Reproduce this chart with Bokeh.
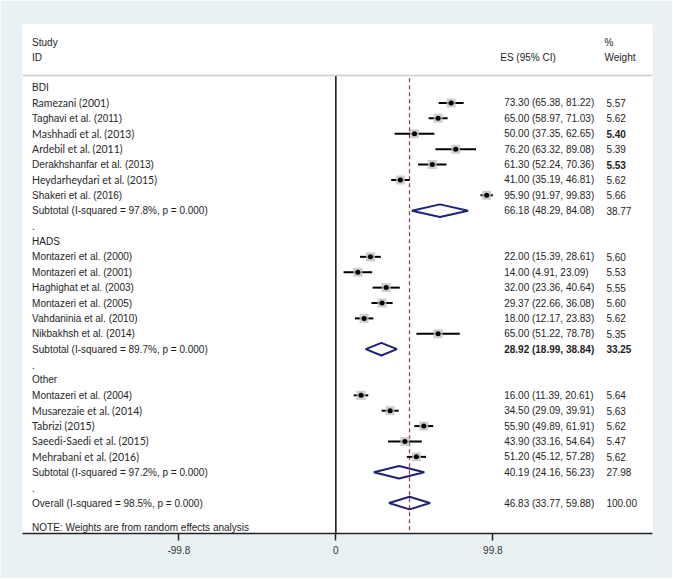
from bokeh.plotting import figure
from bokeh.models import Range1d, FixedTicker, ColumnDataSource, Span
from bokeh.core.properties import value
from bokeh.embed import file_html
from bokeh.resources import INLINE

# ---------------- data ----------------
group_names = ["BDI", "HADS", "Other"]

bdi_studies = ["Ramezani (2001)", "Taghavi  et al. (2011)", "Mashhadi et al. (2013)",
               "Ardebil et al. (2011)", "Derakhshanfar  et al. (2013)",
               "Heydarheydari et al. (2015)", "Shakeri et al. (2016)"]
bdi_es = [73.30, 65.00, 50.00, 76.20, 61.30, 41.00, 95.90]
bdi_lo = [65.38, 58.97, 37.35, 63.32, 52.24, 35.19, 91.97]
bdi_hi = [81.22, 71.03, 62.65, 89.08, 70.36, 46.81, 99.83]
bdi_w = [5.57, 5.62, 5.40, 5.39, 5.53, 5.62, 5.66]
bdi_sub = ["Subtotal  (I-squared = 97.8%, p = 0.000)", 66.18, 48.29, 84.08, 38.77]

hads_studies = ["Montazeri et al. (2000)", "Montazeri et al. (2001)", "Haghighat et al. (2003)",
                "Montazeri et al. (2005)", "Vahdaninia et al. (2010)", "Nikbakhsh et al. (2014)"]
hads_es = [22.00, 14.00, 32.00, 29.37, 18.00, 65.00]
hads_lo = [15.39, 4.91, 23.36, 22.66, 12.17, 51.22]
hads_hi = [28.61, 23.09, 40.64, 36.08, 23.83, 78.78]
hads_w = [5.60, 5.53, 5.55, 5.60, 5.62, 5.35]
hads_sub = ["Subtotal  (I-squared = 89.7%, p = 0.000)", 28.92, 18.99, 38.84, 33.25]

other_studies = ["Montazeri et al. (2004)", "Musarezaie et al. (2014)", "Tabrizi (2015)",
                 "Saeedi-Saedi et al. (2015)", "Mehrabani  et al. (2016)"]
other_es = [16.00, 34.50, 55.90, 43.90, 51.20]
other_lo = [11.39, 29.09, 49.89, 33.16, 45.12]
other_hi = [20.61, 39.91, 61.91, 54.64, 57.28]
other_w = [5.64, 5.63, 5.62, 5.47, 5.62]
other_sub = ["Subtotal  (I-squared = 97.2%, p = 0.000)", 40.19, 24.16, 56.23, 27.98]

overall = ["Overall  (I-squared = 98.5%, p = 0.000)", 46.83, 33.77, 59.88, 100.00]

tick_values = [-99.8, 0, 99.8]
tick_labels = ["-99.8", "0", "99.8"]

narrow_labels = {"Ramezani (2001)", "Mashhadi et al. (2013)", "Ardebil et al. (2011)",
                 "Heydarheydari et al. (2015)", "Musarezaie et al. (2014)", "Tabrizi (2015)",
                 "Saeedi-Saedi et al. (2015)", "Mehrabani  et al. (2016)"}
bold_weight_labels = {"Mashhadi et al. (2013)", "Derakhshanfar  et al. (2013)"}
bold_row_labels = {"Subtotal  (I-squared = 89.7%, p = 0.000)"}

# ---------------- layout of rows ----------------
groups = [
    ("BDI", bdi_studies, bdi_es, bdi_lo, bdi_hi, bdi_w, bdi_sub),
    ("HADS", hads_studies, hads_es, hads_lo, hads_hi, hads_w, hads_sub),
    ("Other", other_studies, other_es, other_lo, other_hi, other_w, other_sub),
]

lab_y, lab_t = [], []
nar_y, nar_t = [], []
st = dict(y=[], es=[], lo=[], hi=[])
dm = dict(xs=[], ys=[])
es_y, es_t, es_b = [], [], []
w_y, w_t, w_b = [], [], []

H = 0.41
row = 0
def add_stats(r, name, es, lo, hi, w):
    es_y.append(r); es_t.append(f"{es:.2f} ({lo:.2f}, {hi:.2f})")
    w_y.append(r); w_t.append(f"{w:.2f}")
    bold_es = name in bold_row_labels
    es_b.append("bold" if bold_es else "normal")
    w_b.append("bold" if (bold_es or name in bold_weight_labels) else "normal")

for gname, names, es_l, lo_l, hi_l, w_l, sub in groups:
    lab_y.append(row); lab_t.append(gname)
    row += 1
    for n, e, l, h, w in zip(names, es_l, lo_l, hi_l, w_l):
        if n in narrow_labels:
            nar_y.append(row); nar_t.append(n)
        else:
            lab_y.append(row); lab_t.append(n)
        st["y"].append(row); st["es"].append(e); st["lo"].append(l); st["hi"].append(h)
        add_stats(row, n, e, l, h, w)
        row += 1
    lab_y.append(row); lab_t.append(sub[0])
    dm["xs"].append([sub[2], sub[1], sub[3], sub[1]])
    dm["ys"].append([row, row - H, row, row + H])
    add_stats(row, sub[0], sub[1], sub[2], sub[3], sub[4])
    row += 1
    lab_y.append(row); lab_t.append(".")
    row += 1

lab_y.append(row); lab_t.append(overall[0])
dm["xs"].append([overall[2], overall[1], overall[3], overall[1]])
dm["ys"].append([row, row - H, row, row + H])
add_stats(row, overall[0], overall[1], overall[2], overall[3], overall[4])
overall_row = row

# ---------------- figure ----------------
BG = "#e9f1f4"
TXT = "#1e1e1e"
FS = "10px"
X0, X1 = -199.2, 201.3
Y_TOP, Y_BOT = -4.10, 28.98

p = figure(width=672, height=578, output_backend="svg", toolbar_location=None,
           x_range=Range1d(X0, X1), y_range=Range1d(Y_BOT, Y_TOP),
           y_axis_location=None, min_border_left=22, min_border_right=20,
           min_border_top=24, min_border_bottom=45)
p.background_fill_color = "white"
p.border_fill_color = BG
p.outline_line_color = None
p.xgrid.visible = False
p.ygrid.visible = False

ax = p.xaxis[0]
ax.ticker = FixedTicker(ticks=tick_values)
ax.major_label_overrides = {v: t for v, t in zip(tick_values, tick_labels)}
ax.minor_tick_line_color = None
ax.major_tick_in = 0
ax.major_tick_out = 7
ax.major_tick_line_width = 1.5
ax.major_tick_line_color = "#222222"
ax.axis_line_width = 1.5
ax.axis_line_color = "#222222"
ax.major_label_text_font = "Liberation Sans"
ax.major_label_text_font_size = FS
ax.major_label_text_color = "#333333"
ax.major_label_standoff = 5

# header separator
p.add_layout(Span(location=-0.78, dimension="width", line_color="#cccccc", line_width=1.5))
# null line at 0
p.segment(x0=[0], y0=[-0.78], x1=[0], y1=[Y_BOT], line_color="#111111", line_width=1.5)
# overall effect dashed line
p.segment(x0=[overall[1]], y0=[-0.6], x1=[overall[1]], y1=[Y_BOT],
          line_color="#9a4350", line_width=1.3, line_dash="4 3")

# study CIs and markers
src = ColumnDataSource(st)
p.segment(x0="lo", y0="y", x1="hi", y1="y", source=src, line_color="black", line_width=2)
p.scatter(x="es", y="y", source=src, marker="square", size=9,
          fill_color="#c2c2c2", fill_alpha=0.8, line_color=None)
p.scatter(x="es", y="y", source=src, marker="circle", size=5,
          fill_color="black", line_color=None)

# diamonds
p.patches(xs="xs", ys="ys", source=ColumnDataSource(dm), fill_alpha=0,
          line_color="#1f2378", line_width=2)

# texts
X_LAB = -193.1
X_ES = 107.0
X_ES_H = 104.5
X_W = 172.0
X_W_H = 170.8

p.text(x=X_LAB, y="y", text="t", source=ColumnDataSource(dict(y=lab_y, t=lab_t)),
       text_font=value("Liberation Sans"), text_font_size=FS, text_color=TXT,
       text_baseline="middle")
p.text(x=X_LAB, y="y", text="t", source=ColumnDataSource(dict(y=nar_y, t=nar_t)),
       text_font=value("Lato"), text_font_size="10.5px", text_color="#2a2a2a",
       text_baseline="middle")
p.text(x=X_ES, y="y", text="t", source=ColumnDataSource(dict(y=es_y, t=es_t, b=es_b)),
       text_font=value("Liberation Sans"), text_font_style="b", text_font_size=FS,
       text_color=TXT, text_baseline="middle")
p.text(x=X_W, y="y", text="t", source=ColumnDataSource(dict(y=w_y, t=w_t, b=w_b)),
       text_font=value("Liberation Sans"), text_font_style="b", text_font_size=FS,
       text_color=TXT, text_baseline="middle")

hdr_font = dict(text_font=value("Liberation Sans"), text_font_size=FS, text_color=TXT,
                text_baseline="middle")
p.text(x=[X_LAB, X_LAB], y=[-2.95, -1.95], text=["Study", "ID"], **hdr_font)
p.text(x=[X_ES_H], y=[-1.95], text=["ES (95% CI)"], **hdr_font)
p.text(x=[X_W_H, X_W_H], y=[-2.95, -1.95], text=["%", "Weight"], **hdr_font)
p.text(x=[X_LAB], y=[overall_row + 1.56], text=["NOTE: Weights are from random effects analysis"],
       **hdr_font)

html = file_html(p, INLINE)
html = html.replace("<body>", '<body style="background-color:%s;">' % BG, 1)
open("out.html", "w").write(html)
